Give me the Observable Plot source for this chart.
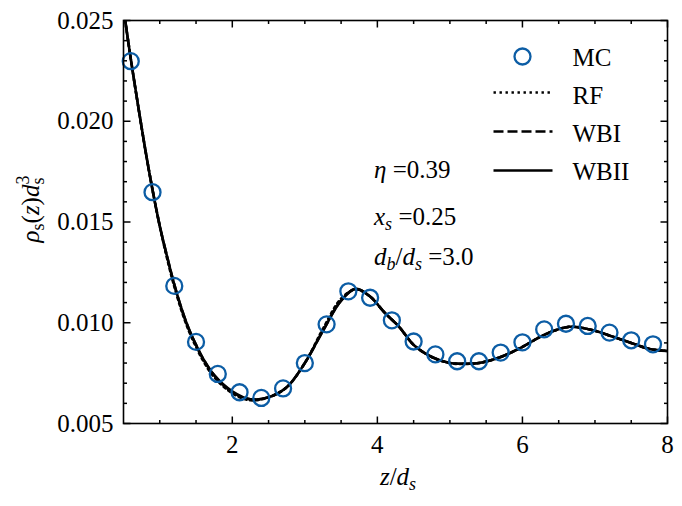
<!DOCTYPE html>
<html><head><meta charset="utf-8">
<script src="https://cdn.jsdelivr.net/npm/d3@7"></script>
<script src="https://cdn.jsdelivr.net/npm/@observablehq/plot@0.6"></script>
<style>
body{margin:0;background:#fff;}
#chart{position:relative;width:682px;height:506px;}
.lab{position:absolute;font-family:"Liberation Serif";font-size:25px;line-height:25px;white-space:nowrap;color:#000;}
.sb{font-size:18px;position:relative;top:5px;}
.sp{font-size:18px;position:relative;top:-10px;}
</style></head><body><div id="chart"></div>
<script>
// MC simulation points
const mcZ   = [0.6, 0.9, 1.2, 1.5, 1.8, 2.1, 2.4, 2.7, 3.0, 3.3, 3.6, 3.9, 4.2, 4.5, 4.8, 5.1, 5.4, 5.7, 6.0, 6.3, 6.6, 6.9, 7.2, 7.5, 7.8];
const mcRho = [0.02298, 0.01648, 0.01183, 0.00905, 0.00746, 0.00655, 0.00627, 0.00674, 0.00800, 0.00992, 0.01156, 0.01124, 0.01012, 0.00907, 0.00843, 0.00809, 0.00809, 0.00852, 0.00903, 0.00967, 0.00995, 0.00984, 0.00951, 0.00913, 0.00893];

// theory curves
const curveZ  = [0.5, 0.6, 0.7, 0.8, 0.9, 1.0, 1.1, 1.2, 1.3, 1.4, 1.5, 1.6, 1.75, 2.0, 2.25, 2.5, 2.75, 3.0, 3.25, 3.5, 3.7, 3.9, 4.1, 4.3, 4.5, 4.75, 5.0, 5.2, 5.4, 5.7, 6.0, 6.3, 6.65, 7.0, 7.25, 7.5, 7.75, 8.0];
const rhoRF   = [0.0256, 0.0231, 0.0208, 0.0186, 0.0166, 0.0148, 0.0132, 0.0118, 0.0106, 0.0096, 0.0088, 0.0081, 0.0073, 0.0065, 0.00615, 0.0063, 0.0068, 0.0080, 0.0097, 0.0112, 0.01165, 0.0113, 0.0105, 0.0098, 0.0089, 0.0083, 0.0080, 0.00795, 0.0080, 0.0083, 0.0088, 0.0094, 0.0098, 0.0096, 0.0093, 0.0090, 0.0087, 0.0086];
const rhoWBI  = [0.0256, 0.0231, 0.0208, 0.0186, 0.0166, 0.0148, 0.0133, 0.0119, 0.0107, 0.0097, 0.0089, 0.0082, 0.0074, 0.00655, 0.0062, 0.0063, 0.0068, 0.0080, 0.0096, 0.0111, 0.01168, 0.0113, 0.0105, 0.0098, 0.0089, 0.0083, 0.0080, 0.00797, 0.0080, 0.0083, 0.0088, 0.0094, 0.0098, 0.0096, 0.0093, 0.0090, 0.0087, 0.0086];
const rhoWBII = [0.0256, 0.0231, 0.0208, 0.0186, 0.0166, 0.0148, 0.0133, 0.0119, 0.0107, 0.0097, 0.0089, 0.0082, 0.0074, 0.0066, 0.0062, 0.0063, 0.0068, 0.0080, 0.0096, 0.0111, 0.01168, 0.0113, 0.0105, 0.0098, 0.0089, 0.0083, 0.0080, 0.00797, 0.0080, 0.0083, 0.0088, 0.0094, 0.0098, 0.0096, 0.0093, 0.0090, 0.0087, 0.0086];

// ticks
const xTicks = [2, 4, 6, 8];
const xTickLabels = ["2", "4", "6", "8"];
const xMinor = [1, 1.5, 2.5, 3, 3.5, 4.5, 5, 5.5, 6.5, 7, 7.5];
const yTicks = [0.005, 0.010, 0.015, 0.020, 0.025];
const yTickLabels = ["0.005", "0.010", "0.015", "0.020", "0.025"];
const yMinor = [0.006, 0.007, 0.008, 0.009, 0.011, 0.012, 0.013, 0.014, 0.016, 0.017, 0.018, 0.019, 0.021, 0.022, 0.023, 0.024];

// legend and parameter annotation texts
const legendLabels = ["MC", "RF", "WBI", "WBII"];
const paramValues = ["=0.39", "=0.25", "=3.0"];

const mc = mcZ.map((z, i) => ({z, rho: mcRho[i]}));
const curve = curveZ.map((z, i) => ({z, rf: rhoRF[i], wbi: rhoWBI[i], wbii: rhoWBII[i]}));

const FONT = "Liberation Serif";
const BLUE = "#0C5DA5";
const LW = 2.6;
const DOTTED = "2.4,3.6", DASHED = "10,4";
const ML = 123, MR = 15, MT = 20, MB = 83;
const MAJ = 7, MIN = 3.5;

// inward tick symbols (drawn as paths)
const seg = (dx, dy) => ({draw(ctx) { ctx.moveTo(0, 0); ctx.lineTo(dx, dy); }});
const tk = {stroke: "black", strokeWidth: 1.5, fill: "none", r: 1};
const ticksX = (vals, len) => [
  Plot.dot(vals, {x: d => d, frameAnchor: "bottom", symbol: seg(0, -len), ...tk}),
  Plot.dot(vals, {x: d => d, frameAnchor: "top", symbol: seg(0, len), ...tk})
];
const ticksY = (vals, len) => [
  Plot.dot(vals, {y: d => d, frameAnchor: "left", symbol: seg(len, 0), ...tk}),
  Plot.dot(vals, {y: d => d, frameAnchor: "right", symbol: seg(-len, 0), ...tk})
];

const hline = {draw(ctx) { ctx.moveTo(-29.5, 0); ctx.lineTo(29.5, 0); }};
const swatch = (Y, dash) => Plot.dot([0], {
  frameAnchor: "top-left", dx: 522.5 - ML, dy: Y - MT, symbol: hline, r: 5,
  stroke: "black", fill: "none", strokeWidth: LW, strokeDasharray: dash
});
const rowY = [56, 92, 131, 170];
const rowBase = [65, 103, 141, 179];

const plot = Plot.plot({
  width: 682, height: 506,
  marginLeft: ML, marginRight: MR, marginTop: MT, marginBottom: MB,
  style: {fontSize: "24px", background: "white"},
  x: {domain: [0.5, 8]},
  y: {domain: [0.005, 0.025]},
  marks: [
    Plot.line(curve, {x: "z", y: "rf", stroke: "black", strokeWidth: LW, strokeDasharray: DOTTED, curve: "catmull-rom", clip: true}),
    Plot.line(curve, {x: "z", y: "wbi", stroke: "black", strokeWidth: LW, strokeDasharray: DASHED, curve: "catmull-rom", clip: true}),
    Plot.line(curve, {x: "z", y: "wbii", stroke: "black", strokeWidth: LW, curve: "catmull-rom", clip: true}),
    Plot.dot(mc, {x: "z", y: "rho", r: 8, stroke: BLUE, strokeWidth: 2.3, fill: "none"}),
    Plot.axisX(xTicks, {anchor: "bottom", tickSize: 0, tickPadding: 12, fontFamily: FONT, fontSize: 25, tickFormat: d => xTickLabels[xTicks.indexOf(d)], label: null}),
    Plot.axisY(yTicks, {anchor: "left", tickSize: 0, tickPadding: 10, fontFamily: FONT, fontSize: 25, tickFormat: d => yTickLabels[yTicks.indexOf(d)], label: null}),
    ...ticksX(xTicks, MAJ), ...ticksX(xMinor, MIN),
    ...ticksY(yTicks, MAJ), ...ticksY(yMinor, MIN),
    Plot.frame({stroke: "black", strokeWidth: 1.6}),
    // legend
    Plot.dot([0], {frameAnchor: "top-left", dx: 522 - ML, dy: rowY[0] - MT, r: 8, stroke: BLUE, strokeWidth: 2.3, fill: "none"}),
    swatch(rowY[1], DOTTED), swatch(rowY[2], DASHED), swatch(rowY[3], null),
    ...legendLabels.map((lab, k) => Plot.text([lab], {
      text: d => d, frameAnchor: "top-left", dx: 572 - ML, dy: rowBase[k] - MT,
      lineAnchor: "bottom", textAnchor: "start", fontFamily: FONT, fontSize: 25, fill: "black"}))
  ]
});

const chart = document.getElementById("chart");
chart.appendChild(plot);

// axis titles and parameter annotations (baseline = top + 21)
function overlay(html, left, top, transform) {
  const el = document.createElement("div");
  el.className = "lab";
  el.style.left = left + "px";
  el.style.top = top + "px";
  if (transform) el.style.transform = transform;
  el.innerHTML = html;
  chart.appendChild(el);
}
overlay('<i>z</i>/<i>d</i><span class="sb"><i>s</i></span>', 398, 464, "translateX(-50%)");
overlay('<i>ρ</i><span class="sb">s</span>(<i>z</i>)<i>d</i><span class="sp">3</span><span class="sb" style="margin-left:-9px">s</span>', 32, 210, "translate(-50%,-50%) rotate(-90deg)");
overlay('<i>η</i> ' + paramValues[0], 374, 157);
overlay('<i>x</i><span class="sb"><i>s</i></span> ' + paramValues[1], 374, 204);
overlay('<i>d</i><span class="sb"><i>b</i></span>/<i>d</i><span class="sb"><i>s</i></span> ' + paramValues[2], 374, 244);
</script>
</body></html>
